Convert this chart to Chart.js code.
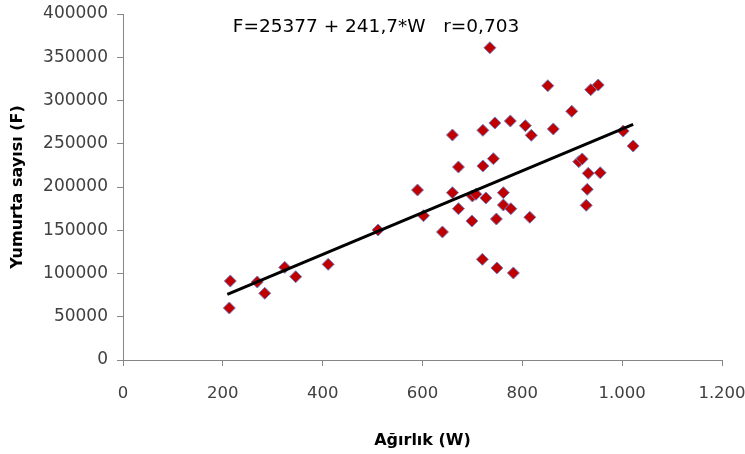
<!DOCTYPE html>
<html>
<head>
<meta charset="utf-8">
<script src="https://cdn.jsdelivr.net/npm/chart.js@4"></script>
<style>
  html, body { margin: 0; padding: 0; background: #fff; }
  #wrap { width: 745px; height: 454px; }
</style>
</head>
<body>
<div id="wrap"><canvas id="grafik"></canvas></div>
<script>
// veriler
const agirlik = [213, 215, 269, 284, 324, 346, 411, 511, 590, 602, 640, 660, 660, 672, 672, 700,
  699, 707, 721, 721, 720, 727, 742, 735, 745, 748, 749, 762, 762, 776, 777, 782,
  806, 818, 815, 851, 862, 899, 913, 920, 932, 930, 928, 937, 952, 956, 1002, 1022];
const yumurta = [60100, 91300, 90200, 77100, 107100, 96300, 110600, 150300, 196500, 166800, 148000, 260100, 193400, 174900, 223100, 189600,
  160700, 191600, 265500, 224300, 116400, 187300, 232700, 361000, 274000, 163000, 106400, 193400, 179200, 276300, 174900, 100600,
  270900, 259800, 165000, 317100, 267100, 287500, 229300, 232400, 215800, 197300, 178800, 312500, 317900, 216500, 264700, 247400];

// regresyon dogrusu uclari
const trendW = [209, 1022];
const trendF = [76000, 272400];

const xTicks = ['0', '200', '400', '600', '800', '1.000', '1.200'];
const notMetni = 'F=25377 + 241,7*W   r=0,703';
const notKonum = { w: 220, f: 385000 };

const fontAile = "'DejaVu Sans', sans-serif";

let noktalar = agirlik.map((w, i) => ({ x: w, y: yumurta[i] }));
let trend = trendW.map((w, i) => ({ x: w, y: trendF[i] }));

// denklem yazisi
const notEklentisi = {
  id: 'notEklentisi',
  afterDatasetsDraw(chart) {
    const ctx = chart.ctx;
    const px = chart.scales.x.getPixelForValue(notKonum.w);
    const py = chart.scales.y.getPixelForValue(notKonum.f);
    ctx.save();
    ctx.font = '18.5px ' + fontAile;
    ctx.fillStyle = '#000';
    ctx.textBaseline = 'middle';
    ctx.textAlign = 'left';
    ctx.fillText(notMetni, px, py);
    ctx.restore();
  }
};

new Chart(document.getElementById('grafik').getContext('2d'), {
  type: 'scatter',
  data: {
    datasets: [{
      label: 'Yumurta',
      data: noktalar,
      pointStyle: 'rectRot',
      pointRadius: 6,
      backgroundColor: '#c00000',
      borderColor: '#6f7fc0',
      borderWidth: 1,
      order: 2
    }, {
      label: 'Trend',
      type: 'line',
      data: trend,
      borderColor: '#000',
      borderWidth: 3,
      pointRadius: 0,
      fill: false,
      order: 1
    }]
  },
  options: {
    responsive: true,
    maintainAspectRatio: false,
    animation: false,
    layout: { padding: { left: 0, right: 0, top: 14, bottom: 0 } },
    plugins: {
      legend: { display: false },
      tooltip: { enabled: false }
    },
    scales: {
      x: {
        type: 'linear',
        min: 0,
        max: 1200,
        border: { color: '#868686', width: 1 },
        grid: { drawOnChartArea: false, tickLength: 6, color: '#868686' },
        ticks: {
          stepSize: 200,
          padding: 18,
          color: '#404040',
          font: { family: fontAile, size: 16.5 },
          callback: (v) => xTicks[v / 200]
        },
        title: {
          display: true,
          text: 'Ağırlık (W)',
          color: '#000',
          font: { family: fontAile, size: 16, weight: 'bold' },
          padding: { top: 17 }
        },
        afterFit: (s) => { s.height = 94; s.paddingLeft = 0; s.paddingRight = 23; }
      },
      y: {
        min: 0,
        max: 400000,
        border: { color: '#868686', width: 1 },
        grid: { drawOnChartArea: false, tickLength: 6, color: '#868686' },
        ticks: {
          stepSize: 50000,
          padding: 9,
          color: '#404040',
          font: { family: fontAile, size: 17 },
          callback: (v) => String(v)
        },
        title: {
          display: true,
          text: 'Yumurta sayısı (F)',
          color: '#000',
          font: { family: fontAile, size: 16, weight: 'bold' },
          padding: { top: 8 }
        },
        afterFit: (s) => { s.width = 123; s.paddingTop = 0; s.paddingBottom = 0; }
      }
    }
  },
  plugins: [notEklentisi]
});
</script>
</body>
</html>
